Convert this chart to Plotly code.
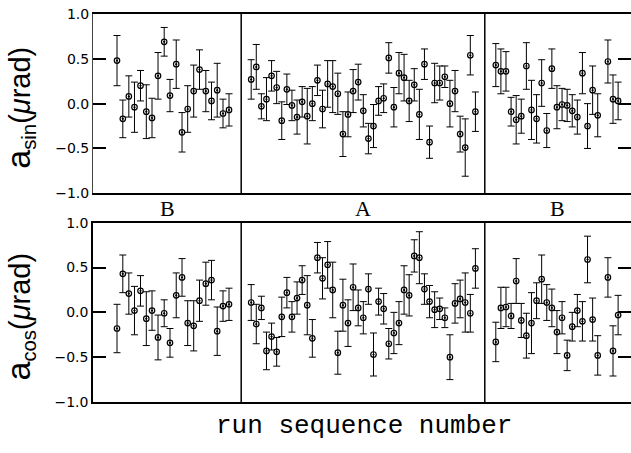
import plotly.graph_objects as go

# ---------------- data ----------------
groups = ["B", "A", "B"]
group_bounds = [29.04, 76.84]          # run numbers of the group dividers

run_B1 = [4.67, 5.81, 6.99, 8.10, 9.28, 10.42, 11.54, 12.72, 13.93, 15.07,
          16.29, 17.43, 18.54, 19.72, 20.86, 22.10, 23.21, 24.33, 25.47, 26.65]
run_A = [31, 32, 33, 34, 35, 36, 37, 38, 39, 40, 41, 42, 43, 44, 45,
         46, 47, 48, 49, 50, 51, 52, 53, 54, 55, 56, 57, 58, 59, 60,
         61, 62, 63, 64, 65, 66, 67, 68, 69, 70, 71, 72, 73, 74, 75]
run_B2 = [79, 80, 81, 82, 83, 84, 85, 86, 87, 88, 89, 90, 91, 92, 93,
          94, 95, 96, 97, 98, 99, 101, 102, 103]

sin_B1 = [0.48, -0.17, 0.08, -0.04, 0.20, -0.09, -0.16, 0.31, 0.69, 0.09,
          0.44, -0.32, -0.06, 0.14, 0.38, 0.14, 0.03, 0.15, -0.11, -0.07]
sin_B1_err = [0.28, 0.21, 0.23, 0.28, 0.17, 0.30, 0.22, 0.26, 0.16, 0.18,
              0.27, 0.22, 0.26, 0.29, 0.22, 0.23, 0.21, 0.30, 0.16, 0.18]
sin_A = [0.27, 0.41, -0.03, 0.05, 0.31, 0.18, -0.19, 0.16, -0.02, -0.15,
         0.02, -0.14, 0.00, 0.26, -0.06, 0.22, 0.19, 0.11, -0.34, -0.12,
         0.14, 0.24, -0.08, -0.39, -0.25, 0.03, 0.06, 0.51, -0.04, 0.34,
         0.29, 0.03, 0.21, -0.12, 0.44, -0.43, 0.23, 0.23, 0.30, 0.00,
         0.14, -0.34, -0.49, 0.54, -0.09]
sin_A_err = [0.22, 0.25, 0.14, 0.24, 0.17, 0.18, 0.21, 0.17, 0.17, 0.19,
             0.17, 0.31, 0.19, 0.17, 0.21, 0.26, 0.29, 0.23, 0.25, 0.25,
             0.24, 0.20, 0.18, 0.17, 0.24, 0.16, 0.16, 0.17, 0.22, 0.23,
             0.26, 0.23, 0.18, 0.28, 0.17, 0.18, 0.22, 0.19, 0.12, 0.26,
             0.23, 0.20, 0.32, 0.22, 0.22]
sin_B2 = [0.43, 0.36, 0.36, -0.09, -0.18, -0.14, 0.42, -0.07, -0.17, 0.23,
          -0.30, 0.39, -0.04, -0.01, -0.02, -0.08, -0.15, 0.34, -0.25, 0.15,
          -0.13, 0.47, 0.05, 0.03]
sin_B2_err = [0.24, 0.25, 0.22, 0.16, 0.27, 0.19, 0.26, 0.33, 0.27, 0.26,
              0.19, 0.22, 0.24, 0.18, 0.18, 0.18, 0.19, 0.23, 0.25, 0.27,
              0.24, 0.24, 0.27, 0.21]

cos_B1 = [-0.18, 0.43, 0.21, 0.02, 0.24, -0.07, 0.02, -0.28, -0.01, -0.34,
          0.19, 0.39, -0.12, -0.15, 0.13, 0.32, 0.36, -0.21, 0.07, 0.09]
cos_B1_err = [0.27, 0.21, 0.23, 0.27, 0.17, 0.30, 0.22, 0.25, 0.15, 0.16,
              0.25, 0.21, 0.25, 0.28, 0.23, 0.24, 0.22, 0.27, 0.17, 0.18]
cos_A = [0.11, -0.13, 0.05, -0.43, -0.27, -0.44, -0.05, 0.22, -0.05, 0.16,
         0.36, 0.08, -0.29, 0.61, 0.38, 0.53, 0.25, -0.45, 0.08, -0.12,
         0.28, 0.05, -0.06, 0.26, -0.47, 0.12, 0.04, -0.35, -0.23, -0.12,
         0.25, 0.19, 0.63, 0.61, 0.26, 0.12, 0.03, 0.04, -0.06, -0.50,
         0.10, 0.15, 0.11, -0.01, 0.49]
cos_A_err = [0.20, 0.22, 0.13, 0.21, 0.15, 0.16, 0.22, 0.17, 0.17, 0.18,
             0.16, 0.33, 0.21, 0.17, 0.23, 0.26, 0.31, 0.24, 0.29, 0.26,
             0.26, 0.20, 0.18, 0.17, 0.24, 0.15, 0.17, 0.17, 0.23, 0.24,
             0.27, 0.23, 0.18, 0.29, 0.17, 0.18, 0.20, 0.12, 0.11, 0.25,
             0.22, 0.21, 0.33, 0.21, 0.22]
cos_B2 = [-0.33, 0.05, 0.06, -0.04, 0.35, -0.09, -0.26, -0.12, 0.13, 0.37,
          0.11, 0.05, -0.22, -0.06, -0.48, -0.16, 0.02, -0.10, 0.59, -0.08,
          -0.48, 0.39, -0.43, -0.03]
cos_B2_err = [0.22, 0.23, 0.22, 0.14, 0.25, 0.19, 0.25, 0.34, 0.20, 0.27,
              0.20, 0.21, 0.24, 0.18, 0.17, 0.16, 0.18, 0.22, 0.26, 0.24,
              0.22, 0.22, 0.28, 0.22]

x_range = [-0.04, 105.53]
y_range = [-1.0, 1.0]

# ---------------- figure ----------------
INK = "black"
fig = go.Figure()

def add_series(xs, ys, es, xa, ya):
    fig.add_trace(go.Scatter(
        x=xs, y=ys, mode="markers", xaxis=xa, yaxis=ya, showlegend=False,
        marker=dict(symbol="circle-open-dot", size=5.5, color=INK,
                    line=dict(width=1.2, color=INK)),
        error_y=dict(type="data", array=es, visible=True, thickness=1,
                     width=3.5, color=INK),
    ))

for xs, ys, es in [(run_B1, sin_B1, sin_B1_err), (run_A, sin_A, sin_A_err),
                   (run_B2, sin_B2, sin_B2_err)]:
    add_series(xs, ys, es, "x", "y")
for xs, ys, es in [(run_B1, cos_B1, cos_B1_err), (run_A, cos_A, cos_A_err),
                   (run_B2, cos_B2, cos_B2_err)]:
    add_series(xs, ys, es, "x2", "y2")

xax = dict(range=x_range, showticklabels=False, gridcolor="white",
           zerolinecolor="white", showline=True, linewidth=1.5,
           linecolor=INK, mirror=True)

# top panel: y axis kept close to plotly defaults
yax_top = dict(range=y_range, dtick=0.5, tickformat=".1f",
               ticks="inside", ticklen=13, tickwidth=1.5, tickcolor="black",
               showline=True, mirror="ticks",
               gridcolor="white", zerolinecolor="white",
               tickfont=dict(family="DejaVu Sans", size=14, color=INK))
# bottom panel: same ticks, heavier black frame, grid switched off
yax_bot = dict(range=y_range, dtick=0.5, tickformat=".1f",
               ticks="inside", ticklen=13, tickwidth=1.5, tickcolor="black",
               showline=True, mirror="ticks", linewidth=1.5, linecolor=INK,
               showgrid=False, zeroline=False,
               tickfont=dict(family="DejaVu Sans", size=14, color=INK))

fig.update_layout(
    template="none",
    width=631, height=453,
    margin=dict(l=93, r=0, t=14, b=51),
    showlegend=False,
    xaxis=dict(**xax, domain=[0, 1], anchor="y"),
    yaxis=dict(**yax_top, domain=[0.538, 1.0], anchor="x"),
    xaxis2=dict(**xax, domain=[0, 1], anchor="y2"),
    yaxis2=dict(**yax_bot, domain=[0.0, 0.462], anchor="x2"),
)

# group dividers
for xr, yr in [("x", "y domain"), ("x2", "y2 domain")]:
    for b in group_bounds:
        fig.add_shape(type="line", xref=xr, yref=yr, x0=b, x1=b, y0=0, y1=1,
                      line=dict(color=INK, width=1.5))

# group labels between panels
edges = [x_range[0]] + group_bounds + [x_range[1]]
for i, g in enumerate(groups):
    fig.add_annotation(x=(edges[i] + edges[i + 1]) / 2, xref="x",
                       y=0.5, yref="paper", text=g, showarrow=False,
                       xanchor="center", yanchor="middle",
                       font=dict(family="Liberation Serif", size=22, color=INK))

# y-axis titles
for ytxt, sub in [(0.758, "sin"), (0.22, "cos")]:
    fig.add_annotation(
        x=-0.136, xref="paper", y=ytxt, yref="paper", showarrow=False,
        textangle=-90, xanchor="center", yanchor="middle",
        text=f"<span style='font-size:34px'>a</span><sub>{sub}</sub>(<i>μ</i>rad)",
        font=dict(family="Liberation Sans", size=29, color=INK))

# x-axis title
fig.add_annotation(x=0.503, xref="paper", y=-0.062, yref="paper",
                   showarrow=False, xanchor="center", yanchor="middle",
                   text="run sequence number",
                   font=dict(family="Liberation Mono", size=26, color=INK))

fig.write_html(
    "out.html",
    config={"displayModeBar": False},
    post_script="document.body.style.margin='0';",
)
